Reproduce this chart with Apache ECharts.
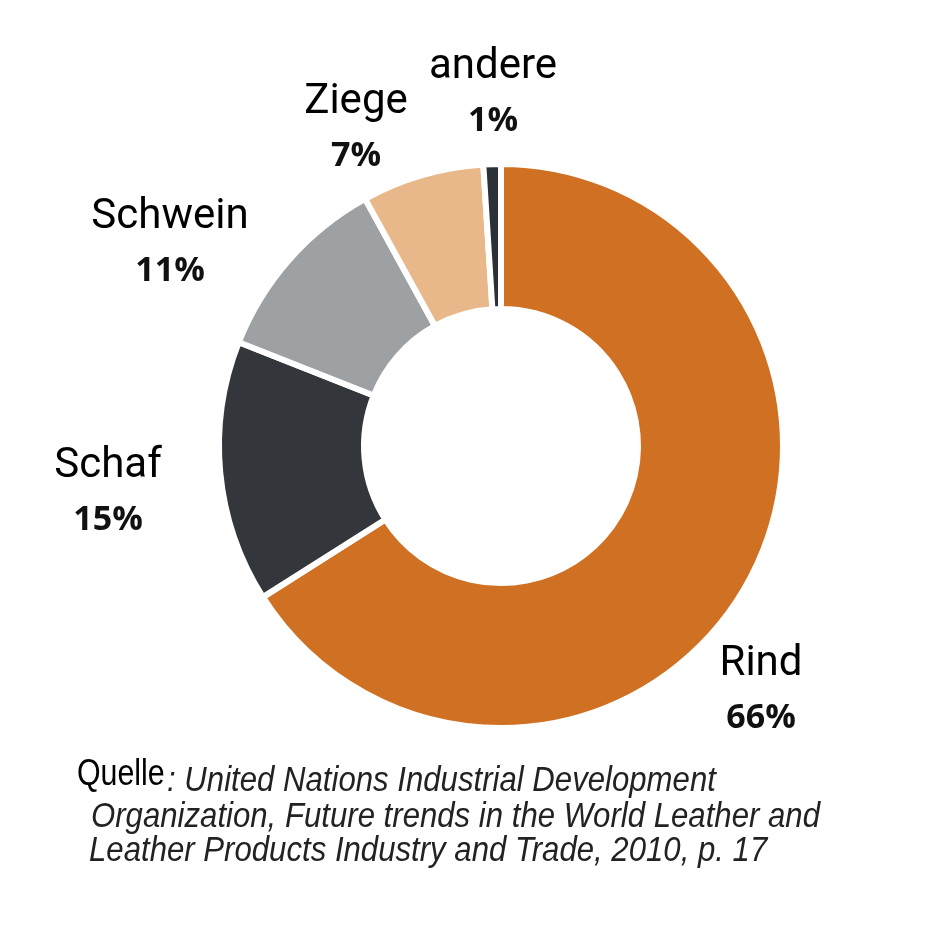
<!DOCTYPE html>
<html><head><meta charset="utf-8">
<script src="https://cdn.jsdelivr.net/npm/echarts@6/dist/echarts.min.js"></script>
<style>html,body{margin:0;padding:0;background:#fff}#c{width:945px;height:945px}</style>
</head><body><div id="c"></div>
<script>
const categories = ['Rind', 'Schaf', 'Schwein', 'Ziege', 'andere'];
const shares = [66, 15, 11, 7, 1];
const colors = ['#D07022', '#33363A', '#9DA1A4', '#E8B88B', '#2C3138'];
const labelCenters = [[761, 691], [108, 493], [170, 244], [356, 129], [493, 94]];
const sourceLines = [
  ': United Nations Industrial Development',
  'Organization, Future trends in the World Leather and',
  'Leather Products Industry and Trade, 2010, p. 17'
];

const srcFont = 'italic 35px "Liberation Sans", Arial';
const chart = echarts.init(document.getElementById('c'));
chart.setOption({
  animation: false,
  backgroundColor: '#fff',
  series: [{
    type: 'pie',
    center: [501, 446],
    radius: [137, 282],
    startAngle: 90,
    clockwise: true,
    avoidLabelOverlap: false,
    data: categories.map((n, i) => ({ name: n, value: shares[i], itemStyle: { color: colors[i] } })),
    itemStyle: { borderColor: '#fff', borderWidth: 6 },
    labelLine: { show: false },
    label: {
      show: true,
      position: 'outside',
      formatter: p => '{n|' + p.name + '}\n{p|' + p.value + '%}',
      rich: {
        n: { fontFamily: 'Roboto', fontSize: 42, color: '#000', lineHeight: 54, align: 'center' },
        p: { fontFamily: 'Open Sans', fontWeight: 'bold', fontSize: 34, color: '#111', lineHeight: 54, align: 'center' }
      }
    },
    labelLayout: params => ({
      x: labelCenters[params.dataIndex][0],
      y: labelCenters[params.dataIndex][1],
      align: 'center',
      verticalAlign: 'middle'
    })
  }],
  graphic: [
    { type: 'text', x: 77, y: 756, scaleX: 0.82, style: { text: 'Quelle', font: '37px "Liberation Sans", Arial', fill: '#000', textVerticalAlign: 'top' } },
    { type: 'text', x: 167, y: 764, scaleX: 0.89, style: { text: sourceLines[0], font: srcFont, fill: '#222', textVerticalAlign: 'top' } },
    { type: 'text', x: 91, y: 800, scaleX: 0.89, style: { text: sourceLines[1], font: srcFont, fill: '#222', textVerticalAlign: 'top' } },
    { type: 'text', x: 89, y: 834, scaleX: 0.89, style: { text: sourceLines[2], font: srcFont, fill: '#222', textVerticalAlign: 'top' } }
  ]
});
</script></body></html>
